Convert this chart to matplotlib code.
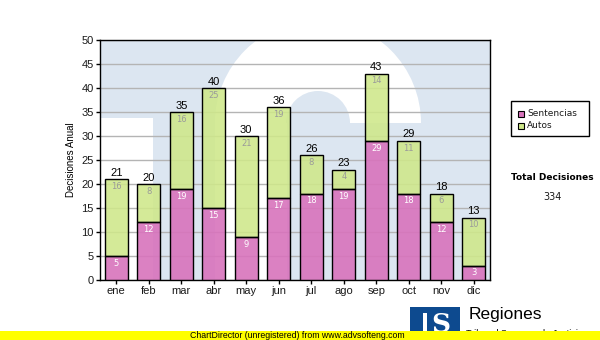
import matplotlib
matplotlib.use("Agg")
import matplotlib.pyplot as plt
from matplotlib.patches import Rectangle, Wedge
import numpy as np

# Monthly decisions
months = ["ene", "feb", "mar", "abr", "may", "jun", "jul", "ago", "sep", "oct", "nov", "dic"]
sentencias = [5, 12, 19, 15, 9, 17, 18, 19, 29, 18, 12, 3]
autos = [16, 8, 16, 25, 21, 19, 8, 4, 14, 11, 6, 10]
series_names = ["Sentencias", "Autos"]
y_ticks = list(range(0, 51, 5))
axis_title = "Decisiones Anual"
total_title = "Total Decisiones"

pink = "#d873bc"
green = "#cfe88a"
wm_blue = "#dce6f1"
W, H = 600, 340

fig = plt.figure(figsize=(6, 3.4), dpi=100)
fig.patch.set_facecolor("white")

def fbox(x0, y0, x1, y1):
    # pixel box (top-left origin) -> figure fraction rect
    return [x0 / W, 1 - y1 / H, (x1 - x0) / W, (y1 - y0) / H]

PX0, PY0, PX1, PY1 = 100, 40, 490, 280

# background watermark, in pixel units so circles stay round
bg = fig.add_axes(fbox(PX0, PY0, PX1, PY1), zorder=0)
bg.set_xlim(PX0, PX1)
bg.set_ylim(PY1, PY0)
bg.set_facecolor(wm_blue)
bg.set_xticks([]); bg.set_yticks([])
for s in bg.spines.values():
    s.set_visible(False)
bg.add_patch(Rectangle((100, 118), 53, 170, color="white", lw=0))
bg.add_patch(Rectangle((215, 123), 72, 170, color="white", lw=0))
bg.add_patch(Wedge((318, 123), 103, 180, 360, width=71, color="white", lw=0))

# main chart
ax = fig.add_axes(fbox(PX0, PY0, PX1, PY1), zorder=1)
ax.set_facecolor("none")
x = np.arange(len(months))
totals = [s + a for s, a in zip(sentencias, autos)]
bw = 0.72
ax.bar(x, sentencias, bw, color=pink, alpha=0.9, edgecolor="none", zorder=3)
ax.bar(x, autos, bw, bottom=sentencias, color=green, alpha=0.88, edgecolor="none", zorder=3)
ax.bar(x, sentencias, bw, fill=False, edgecolor="black", lw=1.0, zorder=4)
ax.bar(x, autos, bw, bottom=sentencias, fill=False, edgecolor="black", lw=1.0, zorder=4)

ax.set_xlim(-0.5, len(months) - 0.5)
ax.set_ylim(0, 50)
ax.set_yticks(y_ticks)
ax.set_xticks(x)
ax.set_xticklabels(months)
ax.yaxis.grid(True, color="#b4b4b4", lw=1.0, zorder=1)
ax.set_axisbelow(True)
ax.tick_params(axis="both", direction="out", length=3, width=1, color="black",
               labelsize=8, labelcolor="#1a1a1a", pad=1.5)
for lab in ax.get_xticklabels() + ax.get_yticklabels():
    lab.set_family("Liberation Sans")
for s in ax.spines.values():
    s.set_color("black"); s.set_linewidth(1.0)
ax.set_ylabel(axis_title, fontsize=7, family="Liberation Sans", labelpad=4)

for i in range(len(months)):
    ax.annotate(str(sentencias[i]), (x[i], sentencias[i]), xytext=(0, -5.2),
                textcoords="offset points", ha="center", va="center",
                fontsize=6, color="white", zorder=5)
    ax.annotate(str(autos[i]), (x[i], totals[i]), xytext=(0, -5.2),
                textcoords="offset points", ha="center", va="center",
                fontsize=6, color="#9a9a9a", zorder=5)
    ax.annotate(str(totals[i]), (x[i], totals[i]), xytext=(0, 1),
                textcoords="offset points", ha="center", va="bottom",
                fontsize=8, family="Liberation Sans", color="black", zorder=5)

# overlay in pixel coordinates for legend, totals, logo and footer
ov = fig.add_axes([0, 0, 1, 1], zorder=5)
ov.set_xlim(0, W)
ov.set_ylim(H, 0)
ov.axis("off")

ov.add_patch(Rectangle((511, 101), 78, 35, facecolor="white", edgecolor="black", lw=1))
for j, (name, col) in enumerate(zip(series_names, [pink, green])):
    yy = 114 + j * 12
    ov.add_patch(Rectangle((518, yy - 3), 6, 6, facecolor=col, edgecolor="black", lw=0.8))
    ov.text(527, yy, name, fontsize=6.5, va="center", ha="left", color="#1a1a1a")

ov.text(552, 178, total_title, fontsize=6.5, weight="bold", ha="center", va="center")
ov.text(552, 197, str(sum(totals)), fontsize=7, ha="center", va="center", color="#1a1a1a")

# logo: blue block with a white S
ov.add_patch(Rectangle((410, 307), 50, 30, facecolor="#0d4a8f", edgecolor="none"))
ov.add_patch(Rectangle((423, 313), 4, 24, facecolor="white", edgecolor="none"))
ov.text(441, 324, "S", fontsize=19, weight="bold", family="DejaVu Serif",
        color="white", ha="center", va="center")
ov.text(469, 315, "Regiones", fontsize=12.5, family="Liberation Sans",
        ha="left", va="center", color="black")
ov.text(466, 333.5, "Tribunal Supremo de Justicia", fontsize=6.5,
        family="Liberation Sans", ha="left", va="center", color="black")

# footer strip
ov.add_patch(Rectangle((0, 331), W, 10, facecolor="#ffff00", edgecolor="none", zorder=10))
ov.text(190, 335.5, "ChartDirector (unregistered) from www.advsofteng.com", fontsize=6.3,
        family="Liberation Sans", ha="left", va="center", color="black", zorder=11)

fig.savefig("out.png", dpi=100)
